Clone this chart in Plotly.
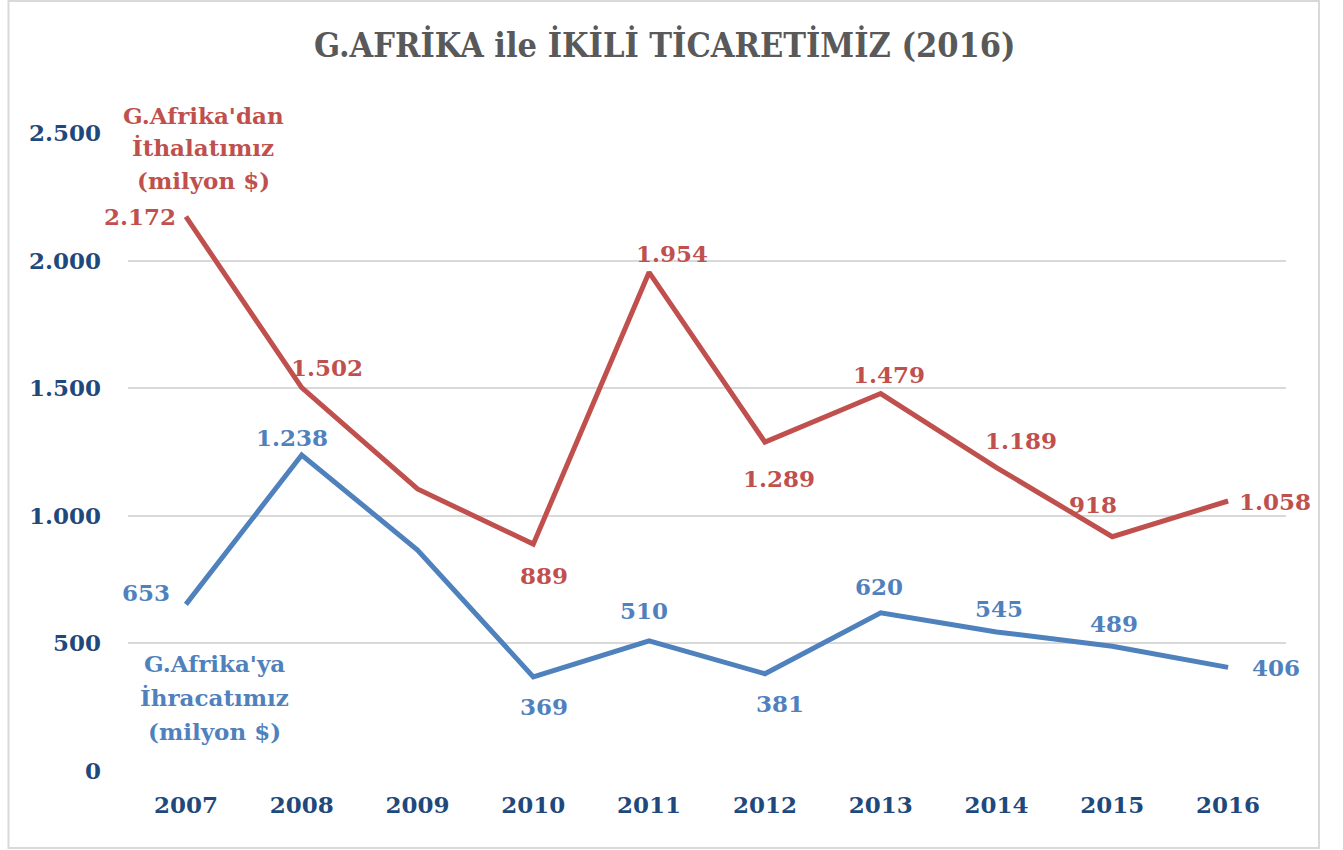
import plotly.graph_objects as go

years = ["2007", "2008", "2009", "2010", "2011", "2012", "2013", "2014", "2015", "2016"]
imports = [2172, 1502, 1105, 889, 1954, 1289, 1479, 1189, 918, 1058]
exports = [653, 1238, 866, 369, 510, 381, 620, 545, 489, 406]
import_labels = ["2.172", "1.502", "", "889", "1.954", "1.289", "1.479", "1.189", "918", "1.058"]
export_labels = ["653", "1.238", "", "369", "510", "381", "620", "545", "489", "406"]
y_ticks = [0, 500, 1000, 1500, 2000, 2500]
y_tick_text = ["0", "500", "1.000", "1.500", "2.000", "2.500"]
title_text = "G.AFRİKA ile İKİLİ TİCARETİMİZ (2016)"
import_name = ["G.Afrika'dan", "İthalatımız", "(milyon $)"]
export_name = ["G.Afrika'ya", "İhracatımız", "(milyon $)"]

RED = "#C0504D"
BLUE = "#4F81BD"
NAVY = "#1F497D"
GRID = "#D9D9D9"
FONT = "DejaVu Serif, Liberation Serif, serif"

# label offsets (pixels) relative to data points
imp_shift = [(-46, 0), (25, 20), (0, 0), (11, -31), (23, 19), (14, -36), (8, 19), (24, 27), (-19, 32), (47, 0)]
exp_shift = [(-40, 12), (-10, 18), (0, 0), (11, -30), (-5, 30), (15, -30), (-2, 26), (2, 23), (2, 23), (48, 0)]

fig = go.Figure()
fig.add_trace(go.Scatter(x=years, y=imports, mode="lines", line=dict(color=RED, width=5),
                         hoverinfo="x+y", showlegend=False))
fig.add_trace(go.Scatter(x=years, y=exports, mode="lines", line=dict(color=BLUE, width=5),
                         hoverinfo="x+y", showlegend=False))

annotations = []
for i, (v, t, (dx, dy)) in enumerate(zip(imports, import_labels, imp_shift)):
    if t:
        annotations.append(dict(x=i, y=v, xref="x", yref="y", text=t, showarrow=False,
                                xshift=dx, yshift=dy,
                                font=dict(family=FONT, size=23, color=RED, weight="bold")))
for i, (v, t, (dx, dy)) in enumerate(zip(exports, export_labels, exp_shift)):
    if t:
        annotations.append(dict(x=i, y=v, xref="x", yref="y", text=t, showarrow=False,
                                xshift=dx, yshift=dy,
                                font=dict(family=FONT, size=23, color=BLUE, weight="bold")))

def px_to_paper(px, py):
    return (px - 128) / 1158, (771 - py) / 638

for line, py in zip(import_name, [116, 148, 181]):
    xp, yp = px_to_paper(203, py)
    annotations.append(dict(x=xp, y=yp, xref="paper", yref="paper", text=line, showarrow=False,
                            xanchor="center", yanchor="middle",
                            font=dict(family=FONT, size=23, color=RED, weight="bold")))
for line, py in zip(export_name, [663, 697, 731]):
    xp, yp = px_to_paper(214, py)
    annotations.append(dict(x=xp, y=yp, xref="paper", yref="paper", text=line, showarrow=False,
                            xanchor="center", yanchor="middle",
                            font=dict(family=FONT, size=23, color=BLUE, weight="bold")))

x0, y0 = px_to_paper(8.5, 848)
x1, y1 = px_to_paper(1319, 1)

fig.update_layout(
    width=1343, height=850,
    paper_bgcolor="white", plot_bgcolor="white",
    margin=dict(l=128, r=57, t=133, b=79),
    title=dict(text=title_text, x=0.495, xanchor="center", y=1 - 45 / 850, yanchor="middle",
               font=dict(family="DejaVu Serif Condensed, Liberation Serif, serif", size=34,
                         color="#595959", weight="bold")),
    xaxis=dict(type="category", range=[-0.5, 9.5], showgrid=False, showline=False, zeroline=False,
               ticks="", ticklabelstandoff=18,
               tickfont=dict(family=FONT, size=23, color=NAVY, weight="bold")),
    yaxis=dict(range=[0, 2500], tickvals=y_ticks, ticktext=y_tick_text, showgrid=True,
               gridcolor=GRID, gridwidth=2, zeroline=False, showline=False, ticks="",
               ticklabelstandoff=26,
               tickfont=dict(family=FONT, size=23, color=NAVY, weight="bold")),
    annotations=annotations,
    shapes=[dict(type="rect", xref="paper", yref="paper", x0=x0, y0=y0, x1=x1, y1=y1,
                 line=dict(color=GRID, width=2), layer="below")],
)

fig.write_html("out.html", config={"displayModeBar": False},
               post_script="document.body.style.margin='0px';")
